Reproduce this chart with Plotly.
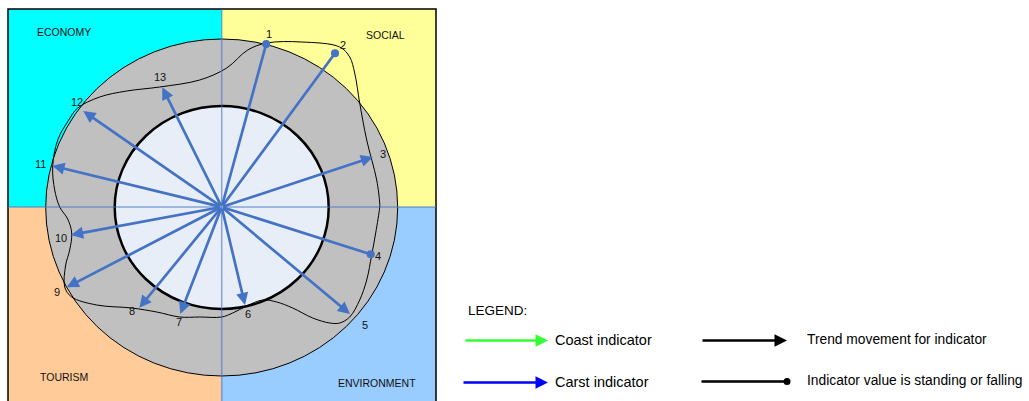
import plotly.graph_objects as go

# -----------------------------------
# Data (pixel-like units, origin at the diagram centre, y up)
# -----------------------------------
indicators = ['1', '2', '3', '4', '5', '6', '7', '8', '9', '10', '11', '12', '13']
tip_x = [44.5, 113.3, 151.3, 149.0, 128.3, 23.3, -41.4, -82.4, -155.0, -150.7, -169.4, -138.4, -59.4]
tip_y = [163.0, 153.7, 50.0, -47.3, -107.0, -98.0, -107.0, -100.7, -80.3, -28.0, 41.3, 96.0, 119.7]
# 'arrow' = trend movement, 'dot' = value standing or falling
tip_type = ['dot', 'dot', 'arrow', 'dot', 'arrow', 'arrow', 'arrow', 'arrow', 'arrow', 'arrow', 'arrow', 'arrow', 'arrow']
label_x = [47.3, 121.3, 161.3, 156.3, 143.3, 26.3, -42.7, -89.7, -164.7, -160.7, -181.7, -144.7, -61.7]
label_y = [173.0, 162.0, 53.0, -49.0, -118.0, -107.0, -115.0, -104.0, -85.0, -31.0, 43.0, 105.0, 130.0]

# closed trend curve through the indicator values
curve_x = [45, 80, 118, 128, 133, 138, 145, 155, 158, 158, 154, 150, 145, 138, 128, 118, 108,
           91, 71, 55, 41, 25, 11, 0, -22, -42, -65, -90, -125, -150, -157, -156, -152, -150,
           -154, -162, -167, -169, -164, -153, -144, -122, -95, -62, -22, 5, 26, 45]
curve_y = [164, 165, 160, 150, 134, 104, 67, 27, 4, 0, -26, -48, -73, -93, -110, -116, -116,
           -111, -101, -95, -93, -99, -106, -110, -110, -110, -105, -101, -98, -90, -80, -58,
           -43, -26, -12, 0, 17, 40, 67, 87, 99, 110, 116, 120, 127, 139, 157, 164]

quadrants = ['ECONOMY', 'SOCIAL', 'TOURISM', 'ENVIRONMENT']
quad_colors = ['#00FFFF', '#FFFF99', '#FFCC99', '#99CCFF']

ARROW = '#4472C4'
CX, CY = 221.7, 207.0   # diagram centre in page pixels
W, H = 1029, 401

fig = go.Figure()

# -----------------------------------
# Background: quadrants, rings
# -----------------------------------
L, R, T, B = 8 - CX, 436 - CX, CY - 9, CY - 405
quad_boxes = [(L, 0, 0, T), (0, 0, R, T), (L, B, 0, 0), (0, B, R, 0)]
for (x0, y0, x1, y1), col in zip(quad_boxes, quad_colors):
    fig.add_shape(type='rect', x0=x0, y0=y0, x1=x1, y1=y1, fillcolor=col,
                  line=dict(width=0), layer='below')
fig.add_shape(type='rect', x0=L, y0=B, x1=R, y1=T, line=dict(color='black', width=1.5),
              layer='below')

fig.add_shape(type='circle', x0=-176, x1=176, y0=-169, y1=168, fillcolor='#C0C0C0',
              line=dict(color='black', width=1), layer='below')
fig.add_shape(type='circle', x0=-107, x1=107, y0=-102, y1=101, fillcolor='#E8EEF8',
              line=dict(color='black', width=2.5), layer='below')

# cross through the centre
fig.add_shape(type='line', x0=0, x1=0, y0=B, y1=T, line=dict(color='rgba(68,114,196,0.6)', width=1.5))
fig.add_shape(type='line', x0=L, x1=R, y0=0, y1=0, line=dict(color='rgba(68,114,196,0.6)', width=1.5))

# trend curve
fig.add_trace(go.Scatter(x=curve_x, y=curve_y, mode='lines',
                         line=dict(color='black', width=1, shape='spline', smoothing=1),
                         hoverinfo='skip', showlegend=False))

# -----------------------------------
# Indicator arrows and labels
# -----------------------------------
for name, x, y, kind, lx, ly in zip(indicators, tip_x, tip_y, tip_type, label_x, label_y):
    fig.add_annotation(x=x, y=y, ax=0, ay=0, xref='x', yref='y', axref='x', ayref='y', text='',
                       showarrow=True, arrowhead=6 if kind == 'dot' else 2,
                       arrowsize=0.75 if kind == 'dot' else 0.9, arrowwidth=2.7, arrowcolor=ARROW)
    fig.add_annotation(x=lx, y=ly, text=name, showarrow=False,
                       font=dict(family='Liberation Sans, Arial', size=11, color='#111'))

quad_label_pos = [(64 - CX, CY - 32), (385 - CX, CY - 35), (64 - CX, CY - 377), (377 - CX, CY - 383)]
for q, (x, y) in zip(quadrants, quad_label_pos):
    fig.add_annotation(x=x, y=y, text=q, showarrow=False,
                       font=dict(family='Liberation Sans, Arial', size=10.5, color='#111'))

# -----------------------------------
# Legend drawn by hand
# -----------------------------------
NARROW = 'Liberation Sans Narrow, Arial Narrow, Liberation Sans'
fig.add_annotation(x=466 - CX, y=CY - 310, text='LEGEND:', showarrow=False, xanchor='left',
                   font=dict(family=NARROW, size=13.5, color='black'))
legend_items = [
    (464, 548, 340.5, '#33FF33', 2, 'Coast indicator', 553, 14.5),
    (462, 548, 382.5, '#0000FF', 2, 'Carst indicator', 553, 14.5),
    (701, 787, 340.5, 'black', 2, 'Trend movement for indicator', 805, 13.8),
    (700, 787, 381.5, 'black', 6, 'Indicator value is standing or falling', 805, 13.8),
]
for xs, xe, yy, col, head, txt, tx, fs in legend_items:
    fig.add_annotation(x=xe - CX, y=CY - yy, ax=xs - CX, ay=CY - yy, xref='x', yref='y',
                       axref='x', ayref='y', text='', showarrow=True, arrowhead=head,
                       arrowsize=1.0 if head == 2 else 0.7, arrowwidth=2.5, arrowcolor=col)
    fig.add_annotation(x=tx - CX, y=CY - yy + 1, text=txt, showarrow=False, xanchor='left',
                       font=dict(family=NARROW, size=fs, color='black'))

fig.update_xaxes(range=[-CX, W - CX], visible=False, fixedrange=True)
fig.update_yaxes(range=[CY - H, CY], visible=False, fixedrange=True)
fig.update_layout(width=W, height=H, margin=dict(l=0, r=0, t=0, b=0),
                  plot_bgcolor='white', paper_bgcolor='white', showlegend=False)

# the page body has a default 8px margin; drop it so the figure fills the window
fig.write_html("out.html", config={'displayModeBar': False},
               post_script="document.body.style.margin='0px';")
